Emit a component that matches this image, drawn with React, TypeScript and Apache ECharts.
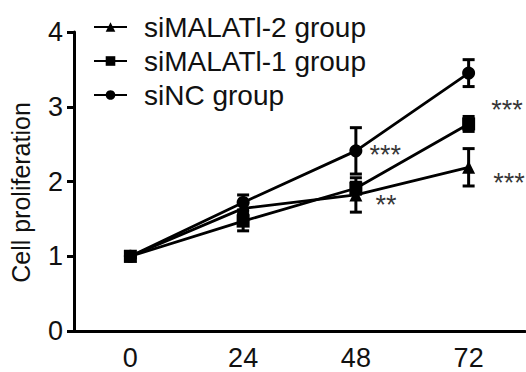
import React, { useEffect, useRef } from "react";
import * as echarts from "echarts";

const categories = ["0", "24", "48", "72"];
const yTicks = [0, 1, 2, 3, 4];

const siNC = [1, 1.72, 2.41, 3.45];
const siNCErr = [0.02, 0.1, 0.31, 0.18];
const si1 = [1, 1.47, 1.91, 2.77];
const si1Err = [0.02, 0.13, 0.08, 0.1];
const si2 = [1, 1.64, 1.82, 2.19];
const si2Err = [0.02, 0.08, 0.23, 0.25];

const annX = ["48", "48", "72", "72"];
const annY = [2.36, 1.68, 2.95, 1.98];
const annText = ["***", "**", "***", "***"];
const annGap = [13, 19, 22, 24];

const FONT = "Liberation Sans, Arial, sans-serif";

function errSeries(name: string, vals: number[], errs: number[]) {
  const data = vals.map((v, i) => [i, v - errs[i], v + errs[i]]);
  return {
    type: "custom",
    name: name + "-err",
    z: 3,
    data,
    renderItem: (params: any, api: any) => {
      const x = api.value(0);
      const lo = api.coord([x, api.value(1)]);
      const hi = api.coord([x, api.value(2)]);
      const hw = 6;
      const st = { stroke: "#000", lineWidth: 3 };
      return {
        type: "group",
        children: [
          { type: "line", shape: { x1: lo[0], y1: lo[1], x2: hi[0], y2: hi[1] }, style: st },
          { type: "line", shape: { x1: lo[0] - hw, y1: lo[1], x2: lo[0] + hw, y2: lo[1] }, style: st },
          { type: "line", shape: { x1: hi[0] - hw, y1: hi[1], x2: hi[0] + hw, y2: hi[1] }, style: st },
        ],
      };
    },
  };
}

export default function App() {
  const ref = useRef<HTMLDivElement>(null);
  useEffect(() => {
    if (!ref.current) return;
    const chart = echarts.init(ref.current, null, { renderer: "svg" });
    const lineSeries = (name: string, data: number[], symbol: string, size: number) => ({
      type: "line",
      name,
      data,
      symbol,
      symbolSize: size,
      z: 4,
      itemStyle: { color: "#000" },
      lineStyle: { color: "#000", width: 2.8 },
    });
    chart.setOption({
      animation: false,
      backgroundColor: "#fff",
      grid: { left: 73, right: 1, top: 32, bottom: 41 },
      legend: {
        orient: "vertical",
        left: 88,
        top: 8,
        itemWidth: 33,
        itemHeight: 12,
        itemGap: 6,
        data: ["siMALATl-2 group", "siMALATl-1 group", "siNC group"],
        textStyle: { fontFamily: FONT, fontSize: 28, color: "#111", lineHeight: 28, padding: [0, 0, 0, 12] },
      },
      xAxis: {
        type: "category",
        data: categories,
        boundaryGap: true,
        axisLine: { lineStyle: { color: "#000", width: 3 } },
        axisTick: { alignWithLabel: true, length: 7, lineStyle: { width: 3, color: "#000" } },
        axisLabel: { fontFamily: FONT, fontSize: 27, color: "#111", margin: 13 },
      },
      yAxis: {
        type: "value",
        min: yTicks[0],
        max: yTicks[yTicks.length - 1],
        interval: 1,
        name: "Cell proliferation",
        nameLocation: "middle",
        nameGap: 41,
        nameTextStyle: { fontFamily: FONT, fontSize: 25, color: "#111", padding: [0, 22, 0, 0] },
        splitLine: { show: false },
        axisLine: { show: true, lineStyle: { color: "#000", width: 3 } },
        axisTick: { show: true, length: 7, lineStyle: { width: 3, color: "#000" } },
        axisLabel: { fontFamily: FONT, fontSize: 27, color: "#111", margin: 11 },
      },
      series: [
        errSeries("siNC", siNC, siNCErr),
        errSeries("si1", si1, si1Err),
        errSeries("si2", si2, si2Err),
        lineSeries("siMALATl-2 group", si2, "triangle", 13),
        lineSeries("siMALATl-1 group", si1, "rect", 13),
        lineSeries("siNC group", siNC, "circle", 13),
        {
          type: "scatter",
          name: "ann",
          symbol: "circle",
          symbolSize: 1,
          itemStyle: { color: "rgba(0,0,0,0)" },
          silent: true,
          data: annX.map((x, i) => ({
            value: [x, annY[i]],
            label: {
              show: true,
              position: "right",
              distance: annGap[i],
              formatter: annText[i],
              fontFamily: FONT,
              fontSize: 27,
              color: "#000",
            },
          })),
        },
      ],
    });
    return () => chart.dispose();
  }, []);
  return (
    <div
      ref={ref}
      style={{ width: 526, height: 372, position: "absolute", left: 0, top: 0 }}
    />
  );
}
